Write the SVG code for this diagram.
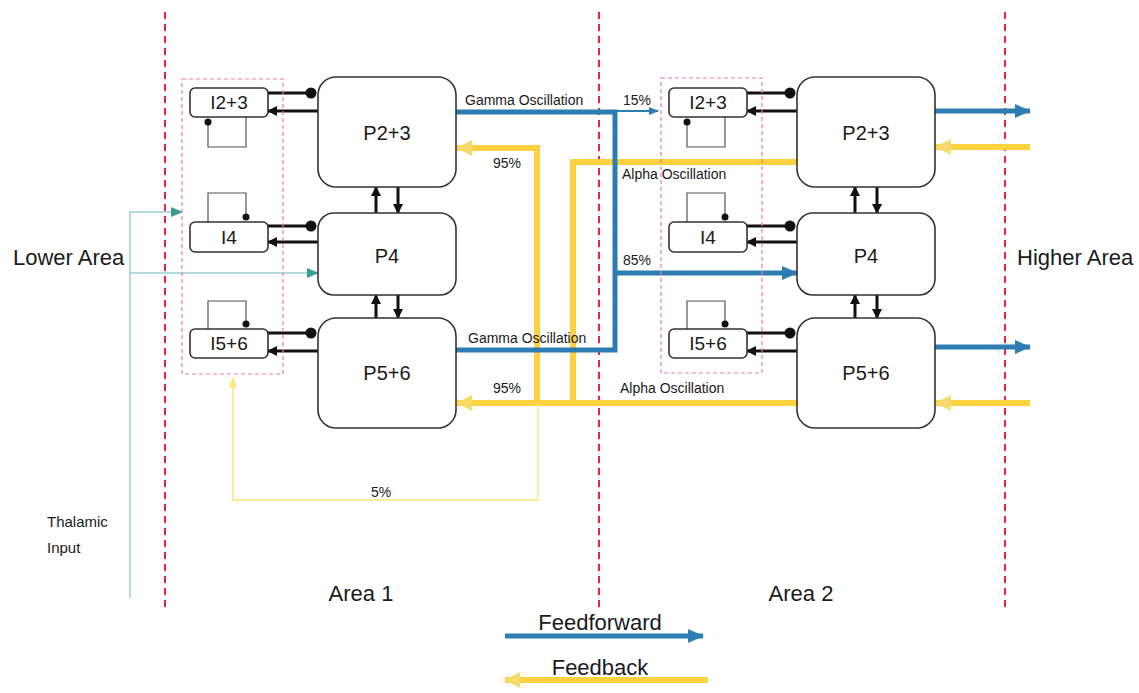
<svg xmlns="http://www.w3.org/2000/svg" width="1139" height="693" viewBox="0 0 1139 693">
<style>
text{font-family:"Liberation Sans",Arial,sans-serif;fill:#1a1a1a}
.area{fill:none;stroke:#E4283C;stroke-width:2;stroke-dasharray:7 5}
.pink{fill:none;stroke:#F27A9A;stroke-width:1.2;stroke-dasharray:4 3}
.pbox{fill:#fff;stroke:#333;stroke-width:1.6}
.ibox{fill:#fff;stroke:#333;stroke-width:1.6}
.pl{font-size:20px;text-anchor:middle}
.il{font-size:19px;text-anchor:middle}
.loop{fill:none;stroke:#555;stroke-width:1.2}
.blk{fill:none;stroke:#111;stroke-width:3}
.blue{fill:none;stroke:#2D7DB3;stroke-width:5}
.yel{fill:none;stroke:#FDD23E;stroke-width:6}
.thy{fill:none;stroke:#FFE27A;stroke-width:1.5}
.teal{fill:none;stroke:#9ACFD0;stroke-width:1.5}
.sm{font-size:14px}
.big{font-size:22px}
</style>
<defs>
<marker id="ab" markerUnits="userSpaceOnUse" markerWidth="16" markerHeight="14" refX="15" refY="7" orient="auto"><path d="M0,0 L16,7 L0,14 z" fill="#2D7DB3"/></marker>
<marker id="abt" markerUnits="userSpaceOnUse" markerWidth="10" markerHeight="8" refX="9" refY="4" orient="auto"><path d="M0,0 L10,4 L0,8 z" fill="#2D7DB3"/></marker>
<marker id="ay" markerUnits="userSpaceOnUse" markerWidth="16" markerHeight="16" refX="15" refY="8" orient="auto"><path d="M0,0 L16,8 L0,16 z" fill="#F5DC6A"/></marker>
<marker id="ayt" markerUnits="userSpaceOnUse" markerWidth="10" markerHeight="8" refX="9" refY="4" orient="auto"><path d="M0,0 L10,4 L0,8 z" fill="#FFE27A"/></marker>
<marker id="ak" markerUnits="userSpaceOnUse" markerWidth="10" markerHeight="10" refX="9" refY="5" orient="auto"><path d="M0,0 L10,5 L0,10 z" fill="#111"/></marker>
<marker id="at" markerUnits="userSpaceOnUse" markerWidth="12" markerHeight="10" refX="11" refY="5" orient="auto"><path d="M0,0 L12,5 L0,10 z" fill="#3A9D92"/></marker>
</defs>
<rect width="1139" height="693" fill="#fff"/>

<g id="area-lines">
<line class="area" x1="165" y1="12" x2="165" y2="610"/>
<line class="area" x1="599" y1="12" x2="599" y2="610"/>
<line class="area" x1="1005" y1="12" x2="1005" y2="610"/>
</g>

<g id="connectors">
<!-- feedback (yellow) -->
<path class="yel" d="M797,162 H573 V403"/>
<path class="yel" d="M797,403 H457" marker-end="url(#ay)"/>
<path class="yel" d="M537,403 V148 H457" marker-end="url(#ay)"/>
<path class="thy" d="M538,403 V500 H233 V378" marker-end="url(#ayt)"/>
<path class="yel" d="M1030,147 H936" marker-end="url(#ay)"/>
<path class="yel" d="M1030,403 H936" marker-end="url(#ay)"/>
<!-- feedforward (blue) -->
<path class="blue" d="M456,112 H615 V350 H456"/>
<path class="blue" d="M615,273 H797" marker-end="url(#ab)"/>
<path fill="none" stroke="#2D7DB3" stroke-width="2" d="M615,111 H658" marker-end="url(#abt)"/>
<path class="blue" d="M935,111 H1030" marker-end="url(#ab)"/>
<path class="blue" d="M935,347 H1030" marker-end="url(#ab)"/>
<!-- thalamic input -->
<path class="teal" d="M130,598 V212 H182" marker-end="url(#at)"/>
<path class="teal" d="M130,273 H318" marker-end="url(#at)"/>
<!-- Area 1 internal -->
<line class="blk" x1="268" y1="93" x2="311" y2="93"/><circle cx="311" cy="93" r="5.5" fill="#111"/>
<line class="blk" x1="318" y1="111" x2="268" y2="111" marker-end="url(#ak)"/>
<line class="blk" x1="268" y1="226" x2="311" y2="226"/><circle cx="311" cy="226" r="5.5" fill="#111"/>
<line class="blk" x1="318" y1="242" x2="268" y2="242" marker-end="url(#ak)"/>
<line class="blk" x1="268" y1="333" x2="311" y2="333"/><circle cx="311" cy="333" r="5.5" fill="#111"/>
<line class="blk" x1="318" y1="351" x2="268" y2="351" marker-end="url(#ak)"/>
<line class="blk" x1="376" y1="213" x2="376" y2="187" marker-end="url(#ak)"/>
<line class="blk" x1="398" y1="187" x2="398" y2="213" marker-end="url(#ak)"/>
<line class="blk" x1="376" y1="318" x2="376" y2="295" marker-end="url(#ak)"/>
<line class="blk" x1="398" y1="295" x2="398" y2="318" marker-end="url(#ak)"/>
<path class="loop" d="M246,117 V147 H208 V122"/><circle cx="208" cy="122" r="3.5" fill="#111"/>
<path class="loop" d="M208,222 V193 H246 V217"/><circle cx="246" cy="217" r="3.5" fill="#111"/>
<path class="loop" d="M208,329 V301 H246 V324"/><circle cx="246" cy="324" r="3.5" fill="#111"/>
<!-- Area 2 internal -->
<line class="blk" x1="747" y1="93" x2="790" y2="93"/><circle cx="790" cy="93" r="5.5" fill="#111"/>
<line class="blk" x1="797" y1="111" x2="747" y2="111" marker-end="url(#ak)"/>
<line class="blk" x1="747" y1="226" x2="790" y2="226"/><circle cx="790" cy="226" r="5.5" fill="#111"/>
<line class="blk" x1="797" y1="242" x2="747" y2="242" marker-end="url(#ak)"/>
<line class="blk" x1="747" y1="333" x2="790" y2="333"/><circle cx="790" cy="333" r="5.5" fill="#111"/>
<line class="blk" x1="797" y1="351" x2="747" y2="351" marker-end="url(#ak)"/>
<line class="blk" x1="855" y1="213" x2="855" y2="187" marker-end="url(#ak)"/>
<line class="blk" x1="877" y1="187" x2="877" y2="213" marker-end="url(#ak)"/>
<line class="blk" x1="855" y1="318" x2="855" y2="295" marker-end="url(#ak)"/>
<line class="blk" x1="877" y1="295" x2="877" y2="318" marker-end="url(#ak)"/>
<path class="loop" d="M725,117 V147 H687 V122"/><circle cx="687" cy="122" r="3.5" fill="#111"/>
<path class="loop" d="M687,222 V193 H725 V217"/><circle cx="725" cy="217" r="3.5" fill="#111"/>
<path class="loop" d="M687,329 V301 H725 V324"/><circle cx="725" cy="324" r="3.5" fill="#111"/>
</g>

<g id="inhib1"><rect class="pink" x="182" y="79" width="101" height="295"/></g>
<g id="inhib2"><rect class="pink" x="661" y="78" width="101" height="295"/></g>

<g id="a1-I23"><rect class="ibox" x="190" y="88" width="78" height="29" rx="5"/><text class="il" x="229" y="109">I2+3</text></g>
<g id="a1-I4"><rect class="ibox" x="190" y="222" width="78" height="30" rx="5"/><text class="il" x="229" y="244">I4</text></g>
<g id="a1-I56"><rect class="ibox" x="190" y="329" width="78" height="29" rx="5"/><text class="il" x="229" y="350">I5+6</text></g>
<g id="a1-P23"><rect class="pbox" x="318" y="77" width="138" height="110" rx="18"/><text class="pl" x="387" y="140">P2+3</text></g>
<g id="a1-P4"><rect class="pbox" x="318" y="213" width="138" height="82" rx="16"/><text class="pl" x="387" y="263">P4</text></g>
<g id="a1-P56"><rect class="pbox" x="318" y="318" width="138" height="110" rx="18"/><text class="pl" x="387" y="380">P5+6</text></g>

<g id="a2-I23"><rect class="ibox" x="669" y="88" width="78" height="29" rx="5"/><text class="il" x="708" y="109">I2+3</text></g>
<g id="a2-I4"><rect class="ibox" x="669" y="222" width="78" height="30" rx="5"/><text class="il" x="708" y="244">I4</text></g>
<g id="a2-I56"><rect class="ibox" x="669" y="329" width="78" height="29" rx="5"/><text class="il" x="708" y="350">I5+6</text></g>
<g id="a2-P23"><rect class="pbox" x="797" y="77" width="138" height="110" rx="18"/><text class="pl" x="866" y="140">P2+3</text></g>
<g id="a2-P4"><rect class="pbox" x="797" y="213" width="138" height="82" rx="16"/><text class="pl" x="866" y="263">P4</text></g>
<g id="a2-P56"><rect class="pbox" x="797" y="318" width="138" height="110" rx="18"/><text class="pl" x="866" y="380">P5+6</text></g>

<g id="labels">
<text class="sm" x="465" y="105">Gamma Oscillation</text>
<text class="sm" x="623" y="105">15%</text>
<text class="sm" x="493" y="168">95%</text>
<text class="sm" x="622" y="179">Alpha Oscillation</text>
<text class="sm" x="623" y="265">85%</text>
<text class="sm" x="468" y="343">Gamma Oscillation</text>
<text class="sm" x="493" y="393">95%</text>
<text class="sm" x="620" y="393">Alpha Oscillation</text>
<text class="sm" x="381" y="497" text-anchor="middle">5%</text>
<text class="big" x="13" y="265">Lower Area</text>
<text class="big" x="1017" y="265">Higher Area</text>
<text class="big" x="361" y="601" text-anchor="middle">Area 1</text>
<text class="big" x="801" y="601" text-anchor="middle">Area 2</text>
<text x="47" y="527" font-size="15">Thalamic</text>
<text x="47" y="553" font-size="15">Input</text>
</g>

<g id="legend">
<text class="big" x="600" y="630" text-anchor="middle">Feedforward</text>
<path class="blue" d="M505,636 H703" marker-end="url(#ab)"/>
<text class="big" x="600" y="675" text-anchor="middle">Feedback</text>
<path class="yel" d="M708,680 H505" marker-end="url(#ay)"/>
</g>
</svg>
